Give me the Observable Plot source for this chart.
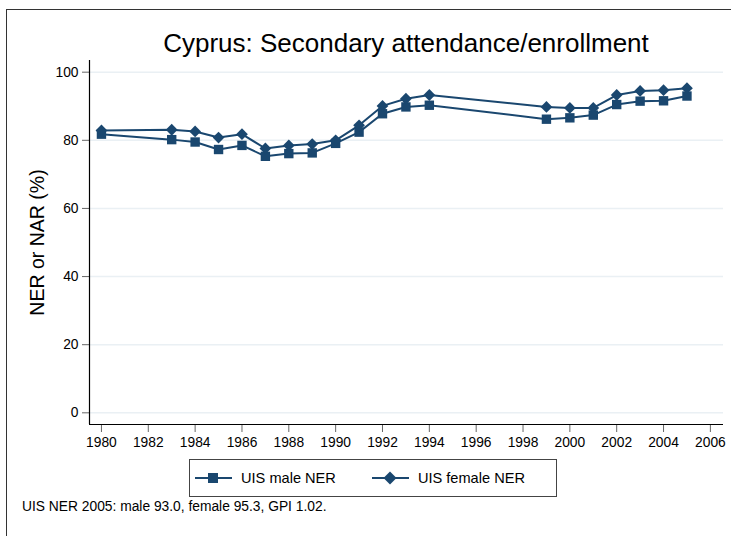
<!DOCTYPE html>
<html>
<head>
<meta charset="utf-8">
<script src="https://cdn.jsdelivr.net/npm/d3@7"></script>
<script src="https://cdn.jsdelivr.net/npm/@observablehq/plot@0.6"></script>
<style>
  html, body { margin: 0; padding: 0; background: #fff; }
  #wrap { position: relative; width: 731px; height: 536px; overflow: hidden; font-family: "Liberation Sans", Arial, sans-serif; color: #000; }
  #border { position: absolute; left: 6px; top: 9px; width: 760px; height: 560px; border: 1px solid #333; box-sizing: border-box; }
  #title { position: absolute; left: 89px; width: 634px; top: 28px; text-align: center; font-size: 26px; line-height: 30px; }
  #chart { position: absolute; left: 0; top: 0; }
  #legend { position: absolute; left: 189px; top: 459px; width: 368px; height: 38px; border: 1px solid #444; box-sizing: border-box; display: flex; align-items: center; font-size: 14.6px; }
  #legend .item { display: flex; align-items: center; }
  #legend svg { display: block; }
  #caption { position: absolute; left: 22px; top: 499px; font-size: 13.8px; }
</style>
</head>
<body>
<div id="wrap">
  <div id="border"></div>
  <div id="title"></div>
  <div id="chart"></div>
  <div id="legend"></div>
  <div id="caption"></div>
</div>
<script>
const titleText = "Cyprus: Secondary attendance/enrollment";
const yLabel = "NER or NAR (%)";
const captionText = "UIS NER 2005: male 93.0, female 95.3, GPI 1.02.";
const seriesNames = ["UIS male NER", "UIS female NER"];
const years = [1980, 1983, 1984, 1985, 1986, 1987, 1988, 1989, 1990, 1991, 1992, 1993, 1994, 1999, 2000, 2001, 2002, 2003, 2004, 2005];
const maleNER = [81.8, 80.2, 79.5, 77.3, 78.5, 75.3, 76.1, 76.3, 79.1, 82.4, 87.8, 89.8, 90.3, 86.2, 86.6, 87.4, 90.5, 91.5, 91.6, 93.0];
const femaleNER = [82.9, 83.1, 82.6, 80.8, 81.8, 77.6, 78.5, 78.9, 80.0, 84.4, 90.1, 92.2, 93.3, 89.8, 89.5, 89.5, 93.3, 94.5, 94.7, 95.3];
const xTicks = [1980, 1982, 1984, 1986, 1988, 1990, 1992, 1994, 1996, 1998, 2000, 2002, 2004, 2006];
const yTicks = [0, 20, 40, 60, 80, 100];

const navy = "#1a476f";
const xDomain = [1979.49, 2006.56];
const yDomain = [-3.43, 103.43];

const rows = [];
years.forEach((yr, i) => {
  rows.push({year: yr, value: maleNER[i], series: seriesNames[0]});
  rows.push({year: yr, value: femaleNER[i], series: seriesNames[1]});
});
const male = rows.filter(d => d.series === seriesNames[0]);
const female = rows.filter(d => d.series === seriesNames[1]);

const chart = Plot.plot({
  width: 731,
  height: 452,
  marginLeft: 89,
  marginRight: 8,
  marginTop: 60,
  marginBottom: 28,
  style: {fontFamily: "Liberation Sans, Arial, sans-serif", background: "transparent"},
  x: {domain: xDomain},
  y: {domain: yDomain},
  marks: [
    Plot.gridY(yTicks, {stroke: "#eaf0f4", strokeOpacity: 1, strokeWidth: 1.5}),
    Plot.axisY(yTicks, {tickSize: 7, tickPadding: 4, fontSize: 13.8, stroke: "#666", label: null, tickFormat: d => String(d)}),
    Plot.axisX(xTicks, {tickSize: 8, tickPadding: 5, fontSize: 13.8, stroke: "#666", label: null, tickFormat: d => String(d)}),
    Plot.ruleX([xDomain[0]], {stroke: "#000", strokeWidth: 1.2}),
    Plot.ruleY([yDomain[0]], {stroke: "#000", strokeWidth: 1.2}),
    Plot.text([yLabel], {frameAnchor: "left", textAnchor: "middle", rotate: -90, dx: -52, fontSize: 19.5, fill: "#000"}),
    Plot.line(male, {x: "year", y: "value", stroke: navy, strokeWidth: 2}),
    Plot.line(female, {x: "year", y: "value", stroke: navy, strokeWidth: 2}),
    Plot.dot(male, {x: "year", y: "value", symbol: "square", r: 5.3, fill: navy, stroke: "none"}),
    Plot.dot(female, {x: "year", y: "value", symbol: "diamond2", r: 5.3, fill: navy, stroke: "none"})
  ]
});
document.getElementById("chart").appendChild(chart);
document.getElementById("title").textContent = titleText;
document.getElementById("caption").textContent = captionText;

const legend = document.getElementById("legend");
const offsets = [5, 36];
seriesNames.forEach((name, i) => {
  const item = document.createElement("div");
  item.className = "item";
  item.style.marginLeft = offsets[i] + "px";
  const sw = i === 0
    ? `<rect x="13" y="5" width="10" height="10" fill="${navy}"/>`
    : `<path d="M18 3.5 L24.5 10 L18 16.5 L11.5 10 Z" fill="${navy}"/>`;
  item.innerHTML = `<svg width="37" height="20"><line x1="0" y1="10" x2="37" y2="10" stroke="${navy}" stroke-width="2"/>${sw}</svg><span style="margin-left:9px">${name}</span>`;
  legend.appendChild(item);
});
</script>
</body>
</html>
